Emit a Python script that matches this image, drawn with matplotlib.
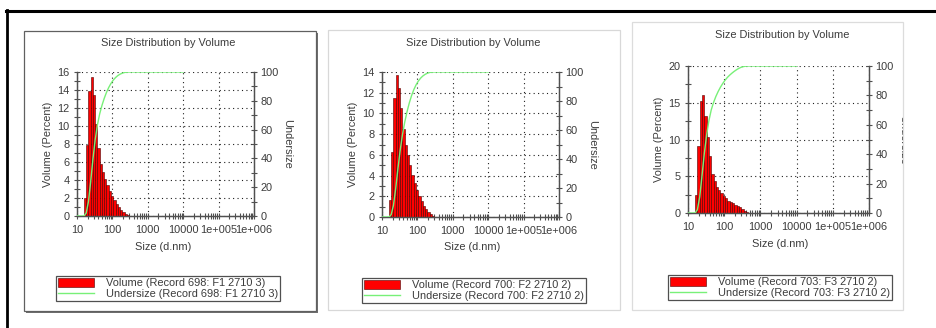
import numpy as np
import matplotlib
matplotlib.use("Agg")
import matplotlib.pyplot as plt
from matplotlib.patches import Rectangle
from matplotlib.lines import Line2D
from matplotlib.ticker import FixedLocator, FixedFormatter, MultipleLocator, NullFormatter

plt.rcParams['font.family'] = ['Liberation Sans', 'DejaVu Sans']

# ---------------- data ----------------
size_bins = [15.69, 18.17, 21.04, 24.36, 28.21, 32.67, 37.84, 43.82, 50.75, 58.77,
             68.06, 78.82, 91.28, 105.7, 122.4, 141.8, 164.2, 190.1, 220.2, 255.0,
             295.3, 342.0, 396.1]
bin_ratio = 1.1583

vol_f1 = [2.0, 7.9, 13.9, 15.5, 13.4, 10.2, 7.6, 5.75, 4.85, 4.1,
          3.4, 2.8, 2.25, 1.75, 1.35, 1.0, 0.7, 0.45, 0.25, 0.1]
vol_f2 = [1.6, 6.3, 11.5, 13.7, 12.5, 10.5, 8.5, 7.0, 6.0, 5.0,
          4.1, 3.3, 2.6, 2.0, 1.5, 1.1, 0.8, 0.5, 0.25, 0.1]
vol_f3 = [2.4, 9.1, 15.2, 16.0, 13.2, 10.4, 7.7, 5.3, 4.3, 3.6,
          3.1, 2.7, 2.3, 2.0, 1.65, 1.45, 1.3, 1.15, 1.0, 0.75,
          0.5, 0.3, 0.1]

x_ticks = [10, 100, 1000, 10000, 1e5, 1e6]
x_tick_labels = ["10", "100", "1000", "10000", "1e+005", "1e+006"]
under_ticks = [0, 20, 40, 60, 80, 100]

title = "Size Distribution by Volume"
records = ["Record 698: F1 2710 3", "Record 700: F2 2710 2", "Record 703: F3 2710 2"]

W, H = 937, 328
fig = plt.figure(figsize=(W / 100, H / 100), dpi=100)
fig.patch.set_facecolor('white')

TXT = '#3c3c3c'
FS = 7.9


def fx(x):
    return x / W


def fy(y):
    return 1 - y / H


def rect_ax(l, r, t, b):
    return [fx(l), fy(b), fx(r) - fx(l), fy(t) - fy(b)]


# frame lines of the screenshot
fig.add_artist(Line2D([fx(6), fx(937)], [fy(10.5), fy(10.5)], color='black', lw=2.2, zorder=-1))
fig.add_artist(Line2D([fx(7), fx(7)], [fy(10), fy(328)], color='black', lw=2.0, zorder=-1))

# panel boxes
fig.add_artist(Rectangle((fx(26), fy(312.5)), fx(316) - fx(24), fy(31) - fy(311),
                         facecolor='#707070', edgecolor='none', zorder=-3))
fig.add_artist(Rectangle((fx(24), fy(311)), fx(316) - fx(24), fy(31) - fy(311),
                         facecolor='white', edgecolor='#606060', lw=0.9, zorder=-2))
fig.add_artist(Rectangle((fx(328), fy(310)), fx(620) - fx(328), fy(30) - fy(310),
                         facecolor='white', edgecolor='#d8d8d8', lw=0.9, zorder=-2))
box3 = Rectangle((fx(632), fy(310)), fx(903) - fx(632), fy(22) - fy(310),
                 facecolor='white', edgecolor='#dcdcdc', lw=0.9, zorder=-2)
fig.add_artist(box3)

panels = [
    dict(vol=vol_f1, rect=(77, 254, 72, 216), ymax=16, ymaj=2, ymin=1,
         title=(168, 43), xlab=(163, 247), ylab=48, rlab=287,
         leg=(56, 276), rec=records[0], clip=None),
    dict(vol=vol_f2, rect=(382, 559, 72, 217), ymax=14, ymaj=2, ymin=1,
         title=(473, 43), xlab=(472, 247), ylab=353, rlab=592,
         leg=(362, 278), rec=records[1], clip=None),
    dict(vol=vol_f3, rect=(688, 869, 66, 213), ymax=20, ymaj=5, ymin=2.5,
         title=(782, 35), xlab=(780, 244), ylab=659, rlab=903.5,
         leg=(668, 275), rec=records[2], clip=box3),
]

for p in panels:
    l, r, t, b = p['rect']
    ax = fig.add_axes(rect_ax(l, r, t, b))
    ax.set_xscale('log')
    ax.set_xlim(10, 1e6)
    ax.set_ylim(0, p['ymax'])
    ax.set_facecolor('none')

    vol = np.array(p['vol'])
    n = len(vol)
    left = np.array(size_bins[:n])
    widths = left * (bin_ratio - 1)
    bars = ax.bar(left, vol, width=widths, align='edge', color='#ff0000',
                  edgecolor='#4a0000', linewidth=0.4, zorder=2)

    ax2 = ax.twinx()
    ax2.set_ylim(0, 100)
    right_edges = left * bin_ratio
    cum = np.cumsum(vol) / vol.sum() * 100
    ux = np.concatenate([[10, left[0]], right_edges, [10000]])
    uy = np.concatenate([[0, 0], cum, [100]])
    line, = ax2.plot(ux, uy, color='#78f078', lw=1.0, zorder=3)

    # grid
    ax.set_axisbelow(True)
    ax.grid(True, which='major', color='#202020', linestyle=(0, (1, 3.0)), lw=0.8)

    for a in (ax, ax2):
        a.spines['top'].set_visible(False)
        for s in ('left', 'right', 'bottom'):
            a.spines[s].set_color('#505050')
            a.spines[s].set_linewidth(0.9)

    ax.xaxis.set_major_locator(FixedLocator(x_ticks))
    ax.xaxis.set_major_formatter(FixedFormatter(x_tick_labels))
    ax.xaxis.set_minor_formatter(NullFormatter())
    ax.yaxis.set_major_locator(MultipleLocator(p['ymaj']))
    ax.yaxis.set_minor_locator(MultipleLocator(p['ymin']))
    ax2.yaxis.set_major_locator(FixedLocator(under_ticks))
    ax2.yaxis.set_minor_locator(MultipleLocator(10))

    ax.tick_params(axis='both', which='both', direction='inout', colors='#505050',
                   labelcolor=TXT, labelsize=FS, length=5, width=0.8, pad=3)
    ax.tick_params(axis='x', which='minor', length=5)
    ax.tick_params(axis='y', which='minor', length=4)
    ax.tick_params(axis='x', pad=4)
    ax2.tick_params(axis='y', which='both', direction='inout', colors='#505050',
                    labelcolor=TXT, labelsize=FS, length=5, width=0.8, pad=2)
    ax2.tick_params(axis='y', which='minor', length=4)

    cx = (l + r) / 2
    hh = b - t
    ax.text(0.5 + (p['title'][0] - cx) / (r - l), 1 + (t - p['title'][1]) / hh, title,
            transform=ax.transAxes, ha='center', va='center', fontsize=FS, color=TXT)
    ax.set_xlabel("Size (d.nm)", fontsize=FS, color=TXT)
    ax.xaxis.set_label_coords(0.5 + (p['xlab'][0] - cx) / (r - l), -(p['xlab'][1] - b) / hh)
    ax.xaxis.label.set_va('center')
    ax.set_ylabel("Volume (Percent)", fontsize=FS, color=TXT)
    ax.yaxis.set_label_coords((p['ylab'] - l) / (r - l), 0.5)
    ax.yaxis.label.set_va('center')
    ax2.set_ylabel("Undersize", fontsize=FS, color=TXT, rotation=270)
    ax2.yaxis.set_label_coords((p['rlab'] - l) / (r - l), 0.5)
    ax2.yaxis.label.set_va('center')
    if p['clip'] is not None:
        ax2.yaxis.label.set_clip_path(p['clip'])
        ax2.yaxis.label.set_clip_on(True)

    lx, ly = p['leg']
    leg = fig.legend([bars, line], ["Volume (" + p['rec'] + ")", "Undersize (" + p['rec'] + ")"],
                     loc='upper left', bbox_to_anchor=(fx(lx), fy(ly)),
                     bbox_transform=fig.transFigure, fontsize=FS, frameon=True,
                     fancybox=False, edgecolor='#505050', framealpha=1,
                     borderpad=0.15, borderaxespad=0, handlelength=3.3,
                     handleheight=0.9, handletextpad=1.1, labelspacing=0.05)
    leg.get_frame().set_linewidth(0.9)
    for tx in leg.get_texts():
        tx.set_color(TXT)

fig.savefig("out.png", dpi=100, facecolor='white')
